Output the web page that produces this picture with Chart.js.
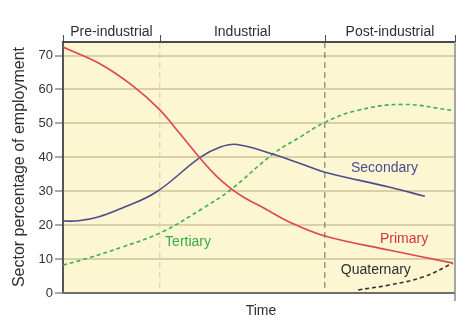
<!DOCTYPE html>
<html>
<head>
<meta charset="utf-8">
<script src="https://cdn.jsdelivr.net/npm/chart.js@4.4.1/dist/chart.umd.min.js"></script>
<style>
  html, body { margin: 0; padding: 0; background: #fff; }
  #wrap { width: 474px; height: 328px; position: relative; }
</style>
</head>
<body>
<div id="wrap"><canvas id="sectors"></canvas></div>
<script>
// time runs 0..100 across the plot, values are % of employment
const primaryTime = [0, 9.4, 17.9, 24.7, 29.8, 35, 39, 42.6, 46.4, 51, 58, 66.8, 83.4, 99.5];
const primaryShare = [72.5, 67.6, 61, 54, 47, 39.7, 34.6, 31, 28, 25.2, 20.8, 16.8, 12.6, 8.8];

const secondaryTime = [0, 4, 9, 15, 23.7, 35, 40, 44.4, 53.6, 60.5, 66.8, 83.4, 92.3];
const secondaryShare = [21.2, 21.3, 22.4, 25, 29.7, 40, 43, 43.8, 40.9, 38.2, 35.6, 31.2, 28.5];

const tertiaryTime = [0, 6.4, 15, 25.3, 35.7, 42.6, 53.6, 60.5, 66.8, 75, 86.7, 99.5];
const tertiaryShare = [8.2, 10.3, 13.5, 18, 25, 30.3, 41, 46, 50.3, 53.8, 55.6, 53.8];

const quaternaryTime = [75.3, 83.4, 91.8, 99.5];
const quaternaryShare = [0.9, 2.4, 4.7, 8.8];

const periodNames = ['Pre-industrial', 'Industrial', 'Post-industrial'];
const periodBreaks = [0, 24.7, 66.8, 100];
const yTicks = [0, 10, 20, 30, 40, 50, 60, 70];

const FONT = '"Liberation Sans", Arial, sans-serif';

function pts(xs, ys) {
    return xs.map((x, i) => ({ x: x, y: ys[i] }));
}

const decor = {
    id: 'decor',
    beforeDraw(chart) {
        const { ctx, chartArea: a } = chart;
        ctx.save();
        ctx.fillStyle = '#fdf6d3';
        ctx.fillRect(a.left, a.top, a.right - a.left, a.bottom - a.top);
        ctx.restore();
    },
    beforeDatasetsDraw(chart) {
        const { ctx, chartArea: a, scales } = chart;
        const xs = scales.x;
        ctx.save();
        // period dividers
        ctx.setLineDash([6, 4]);
        ctx.lineWidth = 1;
        ctx.strokeStyle = '#d6cca4';
        let px = xs.getPixelForValue(periodBreaks[1]);
        ctx.beginPath(); ctx.moveTo(px, a.top); ctx.lineTo(px, a.bottom); ctx.stroke();
        ctx.strokeStyle = '#6a6a6a';
        px = xs.getPixelForValue(periodBreaks[2]);
        ctx.beginPath(); ctx.moveTo(px, a.top); ctx.lineTo(px, a.bottom); ctx.stroke();
        ctx.setLineDash([]);
        ctx.restore();
    },
    afterDraw(chart) {
        const { ctx, chartArea: a, scales } = chart;
        const xs = scales.x, ys = scales.y;
        ctx.save();
        // frame lines
        ctx.strokeStyle = '#4a4a4a';
        ctx.lineWidth = 2;
        ctx.beginPath(); ctx.moveTo(a.left - 1, a.top); ctx.lineTo(a.right, a.top); ctx.stroke();
        ctx.strokeStyle = '#6e6e6e';
        ctx.beginPath(); ctx.moveTo(a.left - 1, a.bottom); ctx.lineTo(a.right, a.bottom); ctx.stroke();
        ctx.strokeStyle = '#8a8a8a';
        ctx.lineWidth = 1.5;
        ctx.beginPath(); ctx.moveTo(a.right, a.top); ctx.lineTo(a.right, a.bottom + 8); ctx.stroke();

        // header ticks + names
        ctx.strokeStyle = '#4a4a4a';
        ctx.lineWidth = 1;
        periodBreaks.forEach(b => {
            const p = Math.round(xs.getPixelForValue(b)) + 0.5;
            ctx.beginPath(); ctx.moveTo(p, a.top - 7); ctx.lineTo(p, a.top); ctx.stroke();
        });
        ctx.fillStyle = '#2e2e2e';
        ctx.font = '14px ' + FONT;
        ctx.textAlign = 'center';
        ctx.textBaseline = 'middle';
        periodNames.forEach((name, i) => {
            const c = (xs.getPixelForValue(periodBreaks[i]) + xs.getPixelForValue(periodBreaks[i + 1])) / 2;
            ctx.fillText(name, c, 32);
        });

        // axis titles
        ctx.fillText('Time', (a.left + a.right) / 2 + 2, 311);
        ctx.save();
        ctx.translate(20, 167);
        ctx.rotate(-Math.PI / 2);
        ctx.font = '16px ' + FONT;
        ctx.fillText('Sector percentage of employment', 0, 0);
        ctx.restore();

        // series labels
        const labels = [
            ['Secondary', 82, 36.8, '#4b4b90'],
            ['Primary', 87, 15.9, '#d8323f'],
            ['Tertiary', 31.9, 15, '#3aa84a'],
            ['Quaternary', 79.8, 6.8, '#2e2e2e']
        ];
        ctx.font = '14px ' + FONT;
        labels.forEach(l => {
            ctx.fillStyle = l[3];
            ctx.fillText(l[0], xs.getPixelForValue(l[1]), ys.getPixelForValue(l[2]));
        });
        ctx.restore();
    }
};

const ctx = document.getElementById('sectors').getContext('2d');
new Chart(ctx, {
    type: 'line',
    data: {
        datasets: [
            { label: 'Primary', data: pts(primaryTime, primaryShare), borderColor: '#e0444f', borderWidth: 1.6 },
            { label: 'Secondary', data: pts(secondaryTime, secondaryShare), borderColor: '#4d4d8c', borderWidth: 1.6 },
            { label: 'Tertiary', data: pts(tertiaryTime, tertiaryShare), borderColor: '#3fae4d', borderWidth: 1.6, borderDash: [4, 3] },
            { label: 'Quaternary', data: pts(quaternaryTime, quaternaryShare), borderColor: '#333333', borderWidth: 1.6, borderDash: [4, 3] }
        ]
    },
    options: {
        responsive: true,
        maintainAspectRatio: false,
        animation: false,
        events: [],
        layout: { padding: { left: 0, right: 19, top: 42, bottom: 35 } },
        elements: {
            point: { radius: 0 },
            line: { tension: 0.4, fill: false }
        },
        plugins: { legend: { display: false }, tooltip: { enabled: false } },
        scales: {
            x: { type: 'linear', min: 0, max: 100, display: false },
            y: {
                min: 0,
                max: 74,
                afterFit: s => { s.width = 63; },
                afterBuildTicks: s => { s.ticks = yTicks.map(v => ({ value: v })); },
                border: { color: '#555', width: 2 },
                grid: {
                    color: c => c.tick && c.tick.value === 0 ? 'rgba(0,0,0,0)' : '#d9d0a6',
                    lineWidth: 2,
                    tickLength: 8,
                    tickColor: '#555',
                    tickWidth: 1
                },
                ticks: { color: '#333', font: { family: FONT, size: 13 }, padding: 2 }
            }
        }
    },
    plugins: [decor]
});
</script>
</body>
</html>
